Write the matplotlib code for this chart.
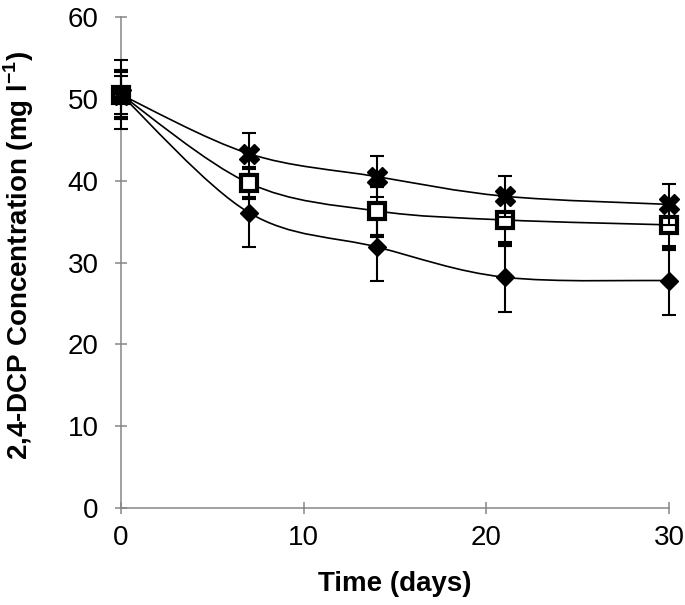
import matplotlib.pyplot as plt
import numpy as np
from matplotlib.path import Path
from matplotlib.patches import PathPatch

plt.rcParams['font.family'] = ['Liberation Sans', 'DejaVu Sans']
plt.rcParams['mathtext.fontset'] = 'custom'
plt.rcParams['mathtext.rm'] = 'Liberation Sans:bold'
plt.rcParams['mathtext.bf'] = 'Liberation Sans:bold'

days = [0, 7, 14, 21, 30]
conc_diamond = [50.5, 36.1, 31.9, 28.2, 27.8]
err_diamond = [4.2, 4.2, 4.2, 4.3, 4.2]
conc_square = [50.5, 39.7, 36.3, 35.2, 34.6]
err_square = [2.9, 1.8, 3.0, 3.0, 2.9]
conc_cross = [50.5, 43.3, 40.5, 38.1, 37.1]
err_cross = [2.3, 2.5, 2.5, 2.5, 2.5]

grey = '#868686'


def smooth_line(ax, x, y):
    # Excel style smoothed line: cubic bezier through each point
    x = np.asarray(x, float)
    y = np.asarray(y, float)
    n = len(x)
    verts = [(x[0], y[0])]
    codes = [Path.MOVETO]
    for i in range(n - 1):
        p0 = np.array([x[max(i - 1, 0)], y[max(i - 1, 0)]])
        p1 = np.array([x[i], y[i]])
        p2 = np.array([x[i + 1], y[i + 1]])
        p3 = np.array([x[min(i + 2, n - 1)], y[min(i + 2, n - 1)]])
        c1 = p1 + (p2 - p0) / 6
        c2 = p2 - (p3 - p1) / 6
        verts += [tuple(c1), tuple(c2), tuple(p2)]
        codes += [Path.CURVE4] * 3
    ax.add_patch(PathPatch(Path(verts, codes), fill=False, edgecolor='black',
                           lw=1.2, zorder=2))


fig, ax = plt.subplots(figsize=(6.85, 6.05), dpi=100)
fig.subplots_adjust(left=0.1766, right=0.9766, bottom=0.1603, top=0.9719)

for c in [conc_diamond, conc_square, conc_cross]:
    smooth_line(ax, days, c)

ax.errorbar(days, conc_diamond, yerr=err_diamond, fmt='D', ms=9, color='black',
            ecolor='black', elinewidth=1.5, capsize=4.7, capthick=1.5, zorder=3)
ax.errorbar(days, conc_square, yerr=err_square, fmt='s', ms=11.5, mfc='white',
            mec='black', mew=3.0, ecolor='black', elinewidth=1.5, capsize=4.7,
            capthick=1.5, zorder=4)
ax.errorbar(days, conc_cross, yerr=err_cross, fmt='X', ms=15, color='black',
            ecolor='black', elinewidth=1.5, capsize=4.7, capthick=1.5, zorder=5)

ax.set_xlim(0, 30)
ax.set_ylim(0, 60)
ax.set_xticks([0, 10, 20, 30])
ax.set_yticks(range(0, 61, 10))
for s in ['top', 'right']:
    ax.spines[s].set_visible(False)
for s in ['left', 'bottom']:
    ax.spines[s].set_color(grey)
    ax.spines[s].set_linewidth(1.1)
ax.tick_params(axis='both', direction='inout', length=8, width=1.1, color=grey,
               labelsize=20)
ax.tick_params(axis='y', pad=12)
ax.tick_params(axis='x', pad=8)
ax.set_xlabel('Time (days)', fontsize=20, fontweight='bold')
ax.set_ylabel(r'2,4-DCP Concentration (mg l$^{\mathbf{-1}}$)', fontsize=20,
              fontweight='bold')
ax.yaxis.set_label_coords(-0.155, 0.514)
ax.xaxis.set_label_coords(0.5, -0.128)
for art in ax.get_children():
    try:
        art.set_clip_on(False)
    except Exception:
        pass

fig.savefig('out.png', dpi=100)
